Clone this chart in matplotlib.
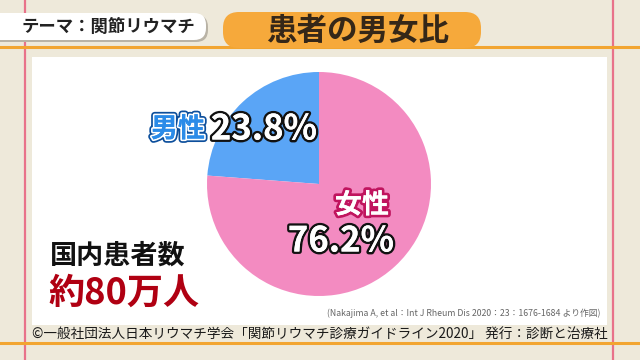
import matplotlib.pyplot as plt
from matplotlib.patches import FancyBboxPatch, Rectangle
import matplotlib.patheffects as pe

plt.rcParams['font.family'] = ['Noto Sans CJK JP', 'DejaVu Sans']

# data
labels = ['男性', '女性']
shares = [23.8, 76.2]
colors = ['#5aa5f6', '#f38bc1']
theme = 'テーマ：関節リウマチ'
title = '患者の男女比'
total_label = '国内患者数'
total_value = '約80万人'
source = '(Nakajima A, et al：Int J Rheum Dis 2020：23：1676-1684 より作図)'
credit = '©一般社団法人日本リウマチ学会「関節リウマチ診療ガイドライン2020」 発行：診断と治療社'

fig = plt.figure(figsize=(6.4, 3.6), dpi=100)
fig.patch.set_facecolor('#eee9da')

# background layer in pixel coordinates
bg = fig.add_axes([0, 0, 1, 1])
bg.set_xlim(0, 640)
bg.set_ylim(360, 0)
bg.axis('off')

# red margin lines
bg.plot([25, 25], [0, 360], color='#e8728a', lw=1.6, zorder=1)
bg.plot([613, 613], [0, 360], color='#e8728a', lw=1.6, zorder=1)
# orange rules
bg.plot([0, 640], [47, 47], color='#f2a531', lw=2.2, zorder=1)
bg.plot([0, 640], [343, 343], color='#f2a531', lw=2.2, zorder=1)

# white panel
bg.add_patch(Rectangle((32, 57), 575, 268, facecolor='white', edgecolor='none', zorder=2))

# theme tab
bg.add_patch(FancyBboxPatch((-20, 15), 228, 27, boxstyle='round,pad=0,rounding_size=12',
                            facecolor='#b9b3a6', edgecolor='none', zorder=3))
bg.add_patch(FancyBboxPatch((-20, 13), 226, 27, boxstyle='round,pad=0,rounding_size=12',
                            facecolor='white', edgecolor='none', zorder=3))
bg.text(22, 27, theme, fontsize=12.5, fontweight='bold', color='#222222',
        ha='left', va='center', zorder=4)

# title pill
bg.add_patch(FancyBboxPatch((223, 12), 258, 36, boxstyle='round,pad=0,rounding_size=16',
                            facecolor='#f6a93b', edgecolor='none', zorder=3))
bg.text(358, 31, title, fontsize=22, fontweight='bold', color='#352718',
        ha='center', va='center', zorder=4)

# totals
bg.text(50, 256, total_label, fontsize=19.5, fontweight='bold', color='#111111',
        ha='left', va='center', zorder=4)
bg.text(48, 293, total_value, fontsize=26, fontweight='bold', color='#b00012',
        ha='left', va='center', zorder=4)

# source notes
bg.text(600, 313, source, fontsize=6.3, color='#666666', ha='right', va='center', zorder=4)
bg.text(608, 335, credit, fontsize=9.8, color='#1a1a1a', ha='right', va='center', zorder=4)

# pie
cx, cy, r = 319, 184, 112
ax = fig.add_axes([(cx - r) / 640, (360 - cy - r) / 360, 2 * r / 640, 2 * r / 360])
ax.pie(shares, colors=colors, startangle=90, counterclock=True,
       wedgeprops=dict(linewidth=0))
ax.set_xlim(-1, 1)
ax.set_ylim(-1, 1)
ax.axis('off')

# overlay for slice labels
fg = fig.add_axes([0, 0, 1, 1])
fg.set_xlim(0, 640)
fg.set_ylim(360, 0)
fg.axis('off')
fg.patch.set_alpha(0)

fg.text(178, 129, labels[0], fontsize=19.5, fontweight='bold', color='#2b8be8',
        ha='center', va='center',
        path_effects=[pe.withStroke(linewidth=5, foreground='#0d4f9c'),
                      pe.withStroke(linewidth=2.5, foreground='white'), pe.Normal()])
fg.text(264, 129, f'{shares[0]}%', fontsize=25, fontweight='bold', color='white',
        ha='center', va='center',
        path_effects=[pe.withStroke(linewidth=3.5, foreground='#111111'), pe.Normal()])
fg.text(362, 205, labels[1], fontsize=19.5, fontweight='bold', color='white',
        ha='center', va='center',
        path_effects=[pe.withStroke(linewidth=4, foreground='#c0145e'), pe.Normal()])
fg.text(341, 241, f'{shares[1]}%', fontsize=25, fontweight='bold', color='white',
        ha='center', va='center',
        path_effects=[pe.withStroke(linewidth=3.5, foreground='#111111'), pe.Normal()])

fig.savefig('out.png', dpi=100, facecolor=fig.get_facecolor())
